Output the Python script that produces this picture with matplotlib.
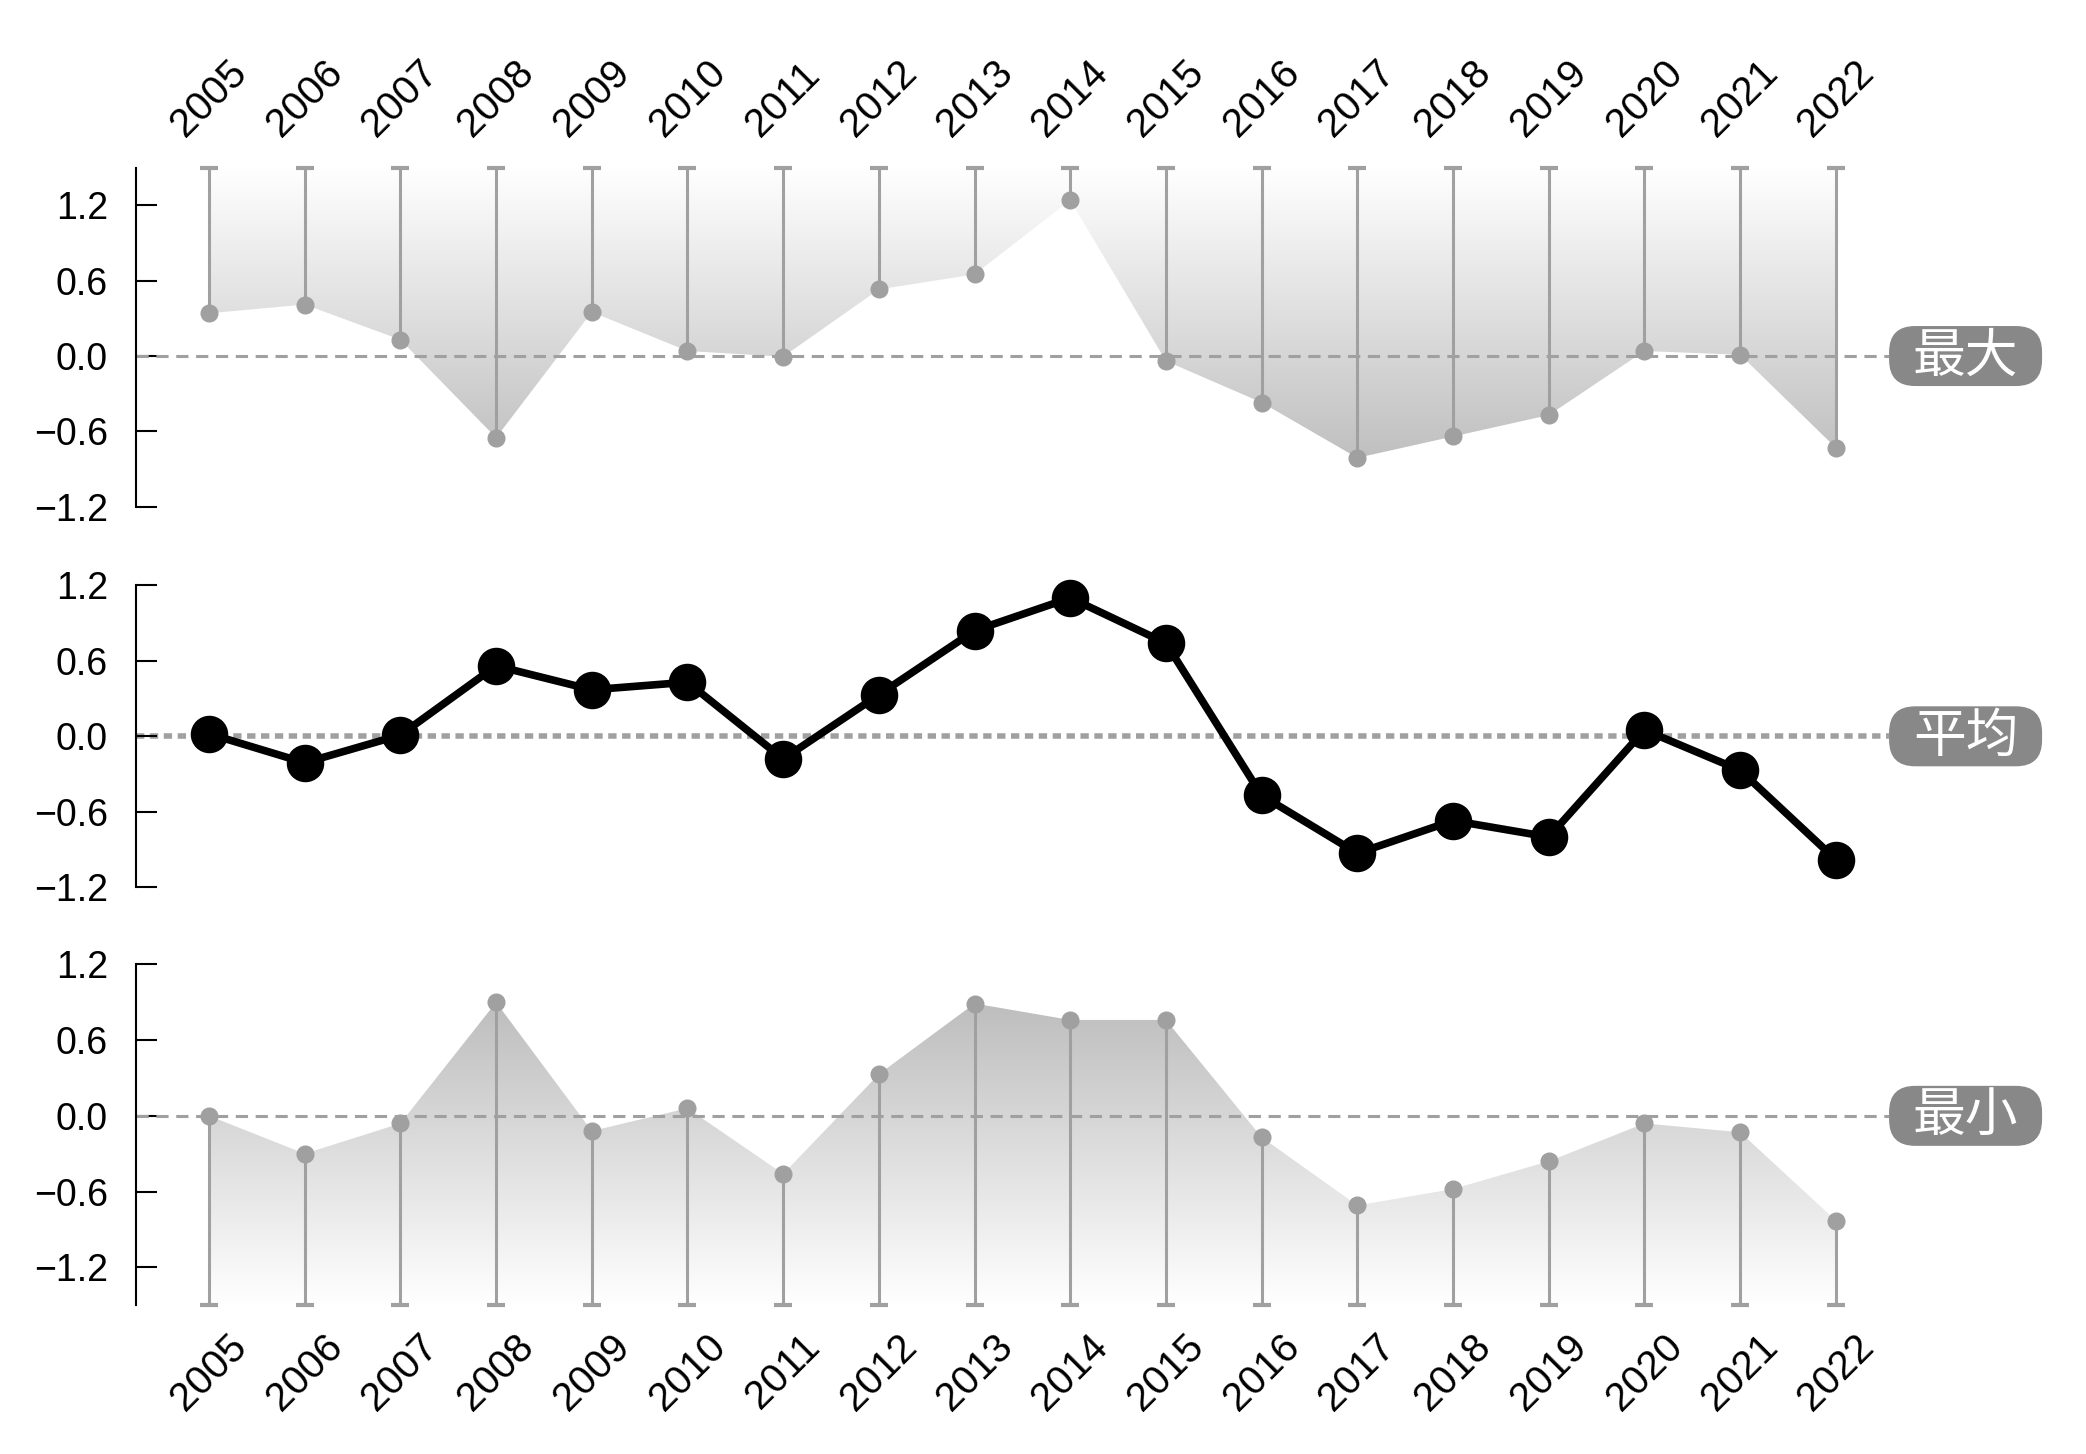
import numpy as np
import matplotlib.pyplot as plt
from matplotlib.colors import LinearSegmentedColormap
from matplotlib.patches import FancyBboxPatch
from matplotlib.transforms import IdentityTransform

# Fonts
plt.rcParams["font.family"] = ["Liberation Sans", "Noto Sans CJK SC"]
plt.rcParams["font.size"] = 27

# Data
years = [2005, 2006, 2007, 2008, 2009, 2010, 2011, 2012, 2013,
         2014, 2015, 2016, 2017, 2018, 2019, 2020, 2021, 2022]
max_vals = [0.34, 0.41, 0.13, -0.65, 0.35, 0.04, -0.005, 0.53, 0.65,
            1.24, -0.04, -0.37, -0.81, -0.64, -0.47, 0.04, 0.01, -0.73]
mean_vals = [0.02, -0.21, 0.01, 0.56, 0.37, 0.43, -0.18, 0.33, 0.84,
             1.10, 0.74, -0.47, -0.93, -0.67, -0.80, 0.05, -0.27, -0.98]
min_vals = [0.0, -0.30, -0.06, 0.90, -0.12, 0.06, -0.46, 0.33, 0.89,
            0.76, 0.76, -0.17, -0.71, -0.58, -0.36, -0.06, -0.13, -0.83]
row_labels = ["最大", "平均", "最小"]
yticks = [-1.2, -0.6, 0.0, 0.6, 1.2]
ytick_labels = [f"{v:.1f}".replace("-", "\u2212") for v in yticks]

GREY = "#a0a0a0"
XLIM = (2004.235, 2022.556)

fig = plt.figure(figsize=(20.86, 14.54), dpi=100)
left, width = 0.0651, 0.8405
ax_max = fig.add_axes([left, 0.6514, width, 0.2334])
ax_mean = fig.add_axes([left, 0.3638, width, 0.2596])
ax_min = fig.add_axes([left, 0.1024, width, 0.2343])


def style_axis(ax, ylim):
    ax.set_xlim(*XLIM)
    ax.set_ylim(*ylim)
    for s in ["top", "right", "bottom"]:
        ax.spines[s].set_visible(False)
    ax.spines["left"].set_linewidth(1.5)
    ax.set_yticks(yticks)
    ax.set_yticklabels(ytick_labels)
    ax.tick_params(axis="y", direction="in", length=15, width=1.5, pad=20,
                   labelsize=27)


def year_labels(ax, pad):
    ax.set_xticks(years)
    ax.set_xticklabels(years, rotation=45, ha="center")
    ax.tick_params(axis="x", length=0, pad=pad, labelsize=29)


def gradient_fill(ax, vals, edge, ylim, gray_on_top):
    poly = ax.fill_between(years, vals, edge, facecolor="none", edgecolor="none")
    cols = ["#ffffff", "#b5b5b5"] if gray_on_top else ["#b5b5b5", "#ffffff"]
    cmap = LinearSegmentedColormap.from_list("g", cols)
    grad = np.linspace(0, 1, 256).reshape(-1, 1)
    im = ax.imshow(grad, extent=[XLIM[0], XLIM[1], ylim[0], ylim[1]],
                   origin="lower", cmap=cmap, aspect="auto", zorder=1)
    im.set_clip_path(poly.get_paths()[0], transform=ax.transData)


def row_label(ax, text):
    px, py = ax.transData.transform((XLIM[1], 0))
    w, h = 153, 60
    box = FancyBboxPatch((px, py - h / 2), w, h,
                         boxstyle="round,pad=0,rounding_size=26",
                         transform=IdentityTransform(), fc="#888888", ec="none")
    fig.add_artist(box)
    fig.text(px + w / 2, py, text, transform=IdentityTransform(),
             ha="center", va="center", color="white", fontsize=38,
             family="Noto Sans CJK SC")


# --- top: maximum ---
ylim_max = (-1.2, 1.5)
style_axis(ax_max, ylim_max)
gradient_fill(ax_max, max_vals, ylim_max[1], ylim_max, gray_on_top=False)
ax_max.axhline(0, color=GREY, lw=2.2, dashes=(4, 2.5), zorder=2)
ax_max.vlines(years, max_vals, ylim_max[1], color=GREY, lw=2.2, zorder=3)
ax_max.plot(years, [ylim_max[1]] * len(years), "_", color=GREY, ms=13, mew=3,
            zorder=3, clip_on=False)
ax_max.plot(years, max_vals, "o", color=GREY, ms=12, zorder=4, clip_on=False)
ax_max.xaxis.tick_top()
year_labels(ax_max, 17)

# --- middle: mean ---
ylim_mean = (-1.5, 1.5)
style_axis(ax_mean, ylim_mean)
ax_mean.spines["left"].set_bounds(-1.2, 1.2)
ax_mean.axhline(0, color=GREY, lw=4, dashes=(1.5, 1.0), zorder=1)
ax_mean.plot(years, mean_vals, "-o", color="black", lw=5.5, ms=26, zorder=3,
             clip_on=False)
ax_mean.set_xticks([])

# --- bottom: minimum ---
ylim_min = (-1.5, 1.2)
style_axis(ax_min, ylim_min)
gradient_fill(ax_min, min_vals, ylim_min[0], ylim_min, gray_on_top=True)
ax_min.axhline(0, color=GREY, lw=2.2, dashes=(4, 2.5), zorder=2)
ax_min.vlines(years, ylim_min[0], min_vals, color=GREY, lw=2.2, zorder=3)
ax_min.plot(years, [ylim_min[0]] * len(years), "_", color=GREY, ms=13, mew=3,
            zorder=3, clip_on=False)
ax_min.plot(years, min_vals, "o", color=GREY, ms=12, zorder=4, clip_on=False)
year_labels(ax_min, 16)

for ax, lab in zip([ax_max, ax_mean, ax_min], row_labels):
    row_label(ax, lab)

fig.savefig("out.png", dpi=100, facecolor="white")
